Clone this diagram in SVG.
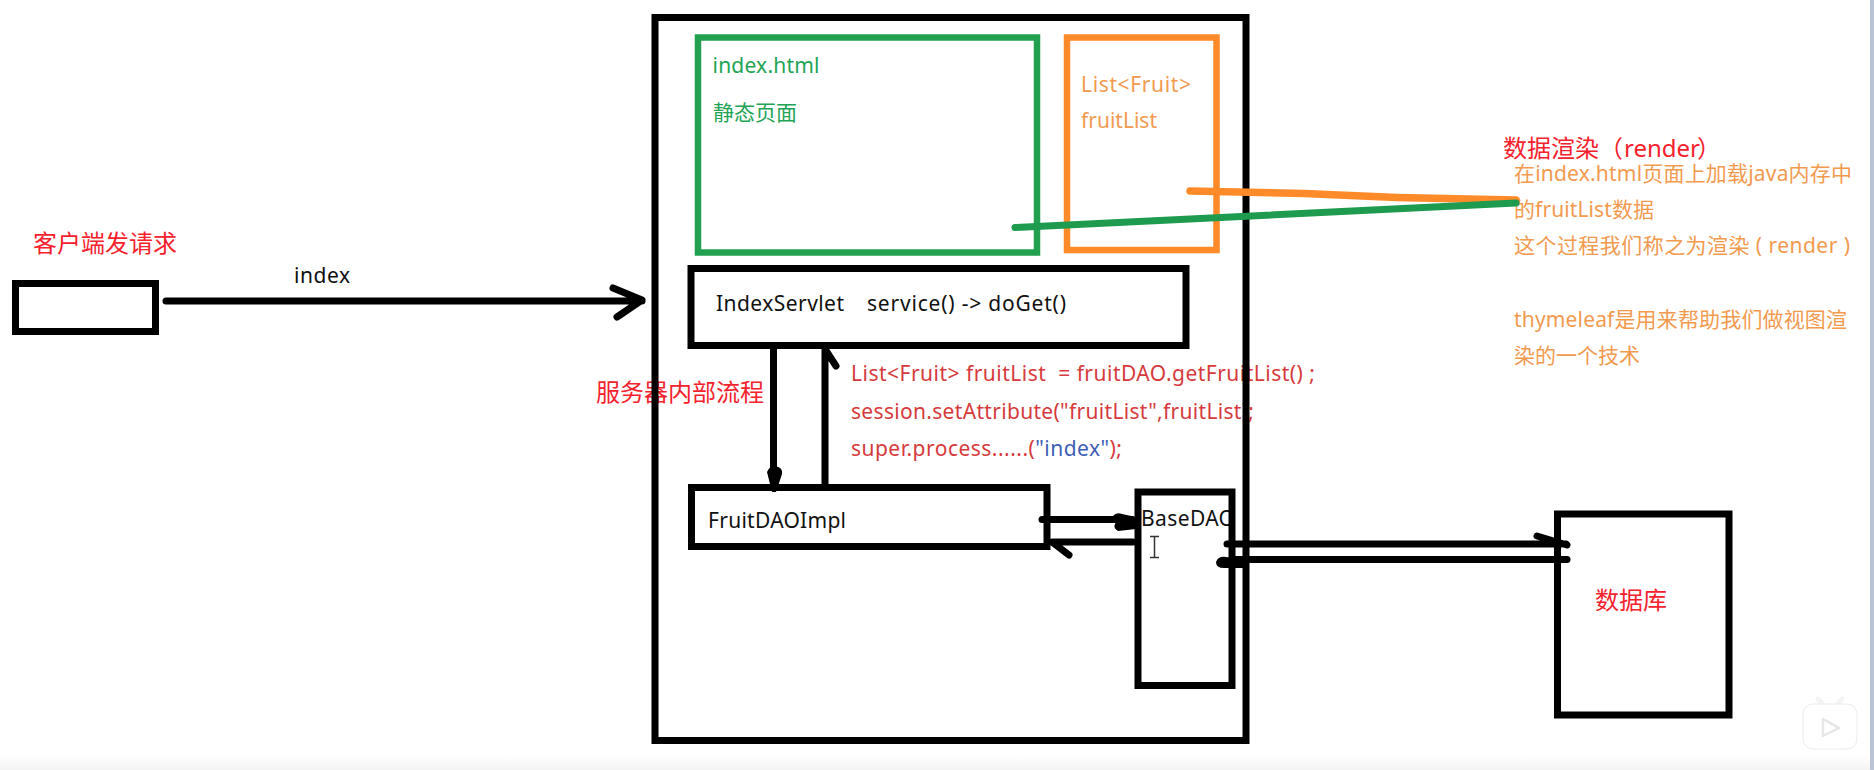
<svg xmlns="http://www.w3.org/2000/svg" width="1874" height="770" viewBox="0 0 1874 770">
<style>
.box{fill:none;stroke:#000;stroke-width:7}
.ln{fill:none;stroke:#000;stroke-width:7;stroke-linecap:round;stroke-linejoin:round}
text{font-family:"Noto Sans","Noto Sans CJK SC",sans-serif;font-size:21px;white-space:pre}
.k{fill:#111}
.r{fill:#f5212d;font-size:24px}
.c{fill:#d63a3c}
.o{fill:#f29a50}
.g{fill:#23a455}
</style>
<defs><linearGradient id="band" x1="0" y1="0" x2="0" y2="1"><stop offset="0" stop-color="#fff"/><stop offset="1" stop-color="#f4f4f4"/></linearGradient></defs>
<rect width="1874" height="770" fill="#fff"/>
<rect y="755" width="1874" height="15" fill="url(#band)"/>
<rect x="1870" width="4" height="770" fill="#bac4d4"/>
<g id="labels">
<text class="r" x="33" y="252">客户端发请求</text>
<text class="k" x="294" y="283" textLength="56">index</text>
<text class="r" x="596" y="401">服务器内部流程</text>
<text class="r" x="1503" y="157">数据渲染（<tspan x="1624">render</tspan><tspan x="1697">）</tspan></text>
</g>
<g id="code">
<text class="c" x="851" y="381" textLength="464">List&lt;Fruit&gt; fruitList  = fruitDAO.getFruitList() ;</text>
<text class="c" x="851" y="419" textLength="403">session.setAttribute("fruitList",fruitList);</text>
<text class="c" x="851" y="456" textLength="271">super.process......(<tspan fill="#3f5fb5">"index"</tspan>);</text>
</g>
<g id="render-note">
<text class="o" x="1514" y="181" textLength="338">在index.html页面上加载java内存中</text>
<text class="o" x="1514" y="217" textLength="140">的fruitList数据</text>
<text class="o" x="1514" y="253" textLength="336">这个过程我们称之为渲染 ( render )</text>
<text class="o" x="1514" y="327" textLength="333">thymeleaf是用来帮助我们做视图渲</text>
<text class="o" x="1514" y="363">染的一个技术</text>
</g>
<g id="client"><rect class="box" x="15.500" y="283.500" width="140" height="48"/></g>
<g id="server"><rect class="box" x="655" y="17.500" width="591" height="723"/></g>
<g id="index-html">
<text class="g" x="712.500" y="73" textLength="107">index.html</text>
<text class="g" x="713" y="120">静态页面</text>
<rect x="698" y="37.500" width="339" height="215" fill="none" stroke="#22a04f" stroke-width="6.500"/>
</g>
<g id="fruit-list">
<text class="o" x="1081" y="92" textLength="110">List&lt;Fruit&gt;</text>
<text class="o" x="1081" y="128" textLength="76">fruitList</text>
<rect x="1067" y="37.500" width="149.500" height="212.500" fill="none" stroke="#ff8a2a" stroke-width="6.500"/>
</g>
<g id="index-servlet">
<rect class="box" x="691" y="268.500" width="495" height="77"/>
<text class="k" x="716" y="311" textLength="128">IndexServlet</text>
<text class="k" x="867" y="311" textLength="199">service() -&gt; doGet()</text>
</g>
<g id="fruit-dao-impl">
<rect class="box" x="691.500" y="487.500" width="355.500" height="59"/>
<text class="k" x="708" y="528" textLength="138">FruitDAOImpl</text>
</g>
<g id="base-dao">
<text class="k" x="1141" y="526" textLength="94">BaseDAO</text>
<rect x="1230" y="495" width="6" height="40" fill="#fff"/>
<rect class="box" x="1138" y="492" width="94" height="193.500"/>
</g>
<g id="database">
<rect class="box" x="1557.500" y="514" width="171.500" height="201"/>
<text class="r" x="1595" y="609">数据库</text>
</g>
<g id="connectors">
<path class="ln" d="M166 301H642M613 288L642 300L617 317"/>
<path d="M773.500 347V488" fill="none" stroke="#000" stroke-width="7"/>
<path d="M767 472Q770 465 775 466Q783 467 782 474L776 492H772Z" fill="#000"/>
<path class="ln" d="M825 485V349L836 366"/>
<path class="ln" d="M1042 519.500H1132"/>
<path d="M1113 516Q1116 512 1122 514L1136 517V529L1118 531Q1112 528 1116 522Z" fill="#000"/>
<path class="ln" d="M1133 542H1052L1069 555"/>
<path class="ln" d="M1227 544H1566M1537 536L1567 545"/>
<path class="ln" d="M1235 559.500H1567"/>
<path d="M1216 562Q1218 556 1226 557L1245 559V568L1224 568Q1216 568 1216 562Z" fill="#000"/>
<path d="M1190 191L1304 193.500L1397 197.500L1516 200" fill="none" stroke="#ff8a2a" stroke-width="7.500" stroke-linecap="round"/>
<path d="M1015 227.500L1516 203" fill="none" stroke="#1e9b4e" stroke-width="7" stroke-linecap="round"/>
</g>
<g id="cursor"><path d="M1150 536.500H1159M1154.500 536.500V557.500M1150 557.500H1159" fill="none" stroke="#333" stroke-width="1.500"/></g>
<g id="watermark">
<path d="M1818 699L1824 706M1842 699L1836 706" stroke="#f4f4f4" stroke-width="5" stroke-linecap="round"/>
<rect x="1803" y="704" width="54" height="45" rx="10" fill="#fff" stroke="#ececec" stroke-width="1"/>
<path d="M1823 719L1839 728L1823 736Z" fill="#fff" stroke="#e6e6e6" stroke-width="2.500" stroke-linejoin="round"/>
</g>
</svg>
